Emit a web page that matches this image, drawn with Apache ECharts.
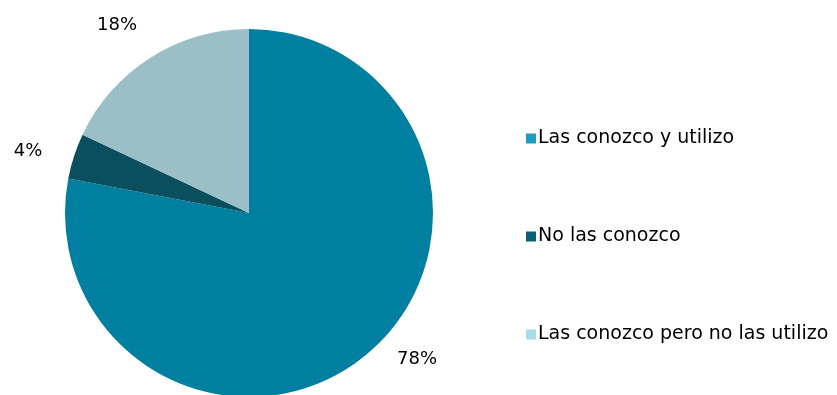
<!DOCTYPE html>
<html>
<head>
<meta charset="utf-8">
<script src="https://cdn.jsdelivr.net/npm/echarts@6/dist/echarts.min.js"></script>
<style>
  html, body { margin: 0; padding: 0; background: #fff; }
  #chart { width: 837px; height: 395px; }
</style>
</head>
<body>
<div id="chart"></div>
<script>
// Categories and shares (%)
const categories = ['Las conozco y utilizo', 'No las conozco', 'Las conozco pero no las utilizo'];
const shares = [78, 4, 18];
const sliceColors = ['#017FA0', '#0A4F5E', '#9BBFC7'];
const legendColors = ['#1D9AC2', '#0B6074', '#A8DCE8'];

// Label anchor points for each slice's percentage
const labelSpots = [[417, 359], [28, 151], [117, 25]];

const chart = echarts.init(document.getElementById('chart'), null, { renderer: 'canvas' });

chart.setOption({
  animation: false,
  textStyle: { fontFamily: 'DejaVu Sans, sans-serif' },
  legend: {
    orient: 'vertical',
    left: 521,
    top: 124,
    itemWidth: 10,
    itemHeight: 10,
    itemGap: 79,
    icon: 'rect',
    selectedMode: false,
    textStyle: { fontSize: 19, color: '#000', padding: [0, 0, 0, -3] },
    data: categories.map((name, i) => ({ name, itemStyle: { color: legendColors[i] } }))
  },
  series: [{
    type: 'pie',
    center: [249, 213],
    radius: 184,
    startAngle: 90,
    clockwise: true,
    silent: true,
    label: {
      show: true,
      formatter: '{c}%',
      fontSize: 18,
      color: '#000',
      overflow: 'none',
      align: 'center',
      verticalAlign: 'middle'
    },
    labelLine: { show: false },
    labelLayout: (params) => ({
      x: labelSpots[params.dataIndex][0],
      y: labelSpots[params.dataIndex][1],
      align: 'center',
      verticalAlign: 'middle'
    }),
    data: categories.map((name, i) => ({
      name,
      value: shares[i],
      itemStyle: { color: sliceColors[i] }
    }))
  }]
});
</script>
</body>
</html>
